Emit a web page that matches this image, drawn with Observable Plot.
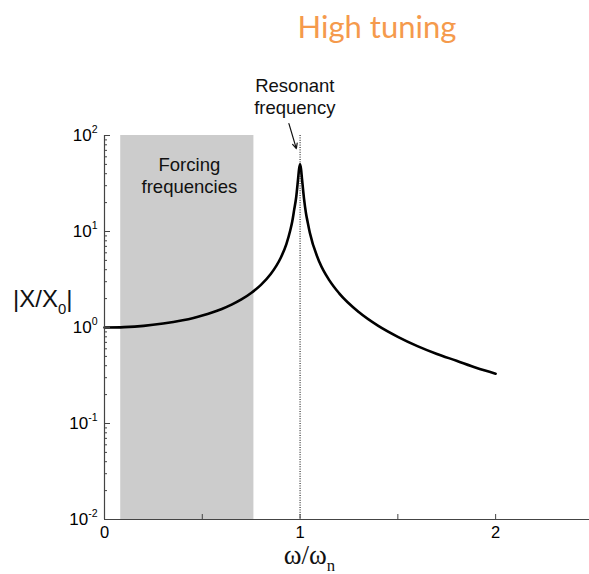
<!DOCTYPE html>
<html>
<head>
<meta charset="utf-8">
<script src="https://cdn.jsdelivr.net/npm/d3@7"></script>
<script src="https://cdn.jsdelivr.net/npm/@observablehq/plot@0.6"></script>
<style>
  html, body { margin: 0; padding: 0; background: #fff; }
  #wrap { width: 589px; height: 574px; position: relative; overflow: hidden; }
  #title { position: relative; height: 60px; width: 589px; }
  #title span { position: absolute; left: 377px; top: 7px; transform: translateX(-50%);
    font-family: Lato, "Open Sans", sans-serif; font-weight: 400; font-size: 31px; color: #f59a4c; white-space: nowrap; }
  svg { display: block; }
</style>
</head>
<body>
<div id="wrap">
  <div id="title"><span>High tuning</span></div>
  <div id="chart"></div>
</div>
<script>
// Frequency ratio ω/ωn and amplitude ratio |X/X0|
const ratio =     [0, 0.1, 0.2, 0.3, 0.4, 0.45, 0.5, 0.55, 0.6, 0.65, 0.7, 0.75, 0.8, 0.85, 0.9, 0.93, 0.95, 0.96, 0.97, 0.98, 0.99, 0.995, 1.0, 1.005, 1.01, 1.02, 1.03, 1.04, 1.05, 1.1, 1.15, 1.2, 1.3, 1.4, 1.5, 1.6, 1.7, 1.8, 1.9, 2.0];
const amplitude = [1.0, 1.01, 1.04, 1.10, 1.19, 1.25, 1.33, 1.43, 1.56, 1.73, 1.96, 2.29, 2.78, 3.60, 5.26, 7.40, 10.3, 12.7, 16.9, 22.6, 35.6, 44.9, 50, 44.6, 35.1, 22.1, 15.6, 12.2, 9.7, 4.76, 3.10, 2.27, 1.45, 1.04, 0.80, 0.64, 0.53, 0.45, 0.38, 0.33];

// Forcing frequency band (ω/ωn)
const forcingBand = [0.083, 0.764];

// Axis ticks and labels
const xTicks = [0, 0.5, 1, 1.5, 2];
const xTickLabels = [0, 1, 2];
const yTicks = [0.01, 0.1, 1, 10, 100];
const yTickLabels = ["10^{-2}", "10^{-1}", "10^{0}", "10^{1}", "10^{2}"];
const yMinorTicks = [];
for (let k = 0; k < 4; k++) for (let m = 2; m <= 9; m++) yMinorTicks.push(m * yTicks[k]);

// Annotations
const resonance = [1];
const annoText = [
  {x: 0.434, y: 38.7, label: "Forcing\nfrequencies"},
  {x: 0.973, y: 261, label: "Resonant\nfrequency"}
];
const arrowData = [{x1: 0.943, y1: 133, x2: 0.981, y2: 73}];

const curve = ratio.map((r, i) => ({r, a: amplitude[i]}));
const yLabelOf = d => yTickLabels[yTicks.findIndex(t => Math.abs(t - d) / t < 1e-6)] ?? "";

const axisColor = "#444";

const chart = Plot.plot({
  width: 589,
  height: 514,
  marginTop: 75,
  marginBottom: 55,
  marginLeft: 104,
  marginRight: 0,
  style: {fontFamily: "'Liberation Sans', Arial, sans-serif", fontSize: "16px", color: "#000", background: "#fff"},
  x: {domain: [0, 2.48], axis: null},
  y: {type: "log", domain: [0.01, 100], axis: null},
  marks: [
    Plot.rect([forcingBand], {x1: d => d[0], x2: d => d[1], y1: 0.01, y2: 100, fill: "#cccccc"}),
    Plot.ruleX(resonance, {stroke: "#000", strokeWidth: 1, strokeDasharray: "1,1.4"}),
    Plot.line(curve, {x: "r", y: "a", stroke: "#000", strokeWidth: 2.6, curve: "monotone-x"}),
    // axis lines
    Plot.ruleX([0], {stroke: axisColor, strokeWidth: 1.2}),
    Plot.ruleY([0.01], {stroke: axisColor, strokeWidth: 1.2}),
    // ticks (inward)
    Plot.axisX(xTicks, {tickSize: -5, tickFormat: () => "", stroke: axisColor}),
    Plot.axisX(xTickLabels, {tickSize: 0, tickPadding: 7, tickFormat: d => String(d), fontSize: 16.5, label: null}),
    Plot.axisY(yTicks, {tickSize: -6, tickFormat: () => "", stroke: axisColor}),
    Plot.axisY(yMinorTicks, {tickSize: -3, tickFormat: () => "", stroke: axisColor}),
    Plot.axisY(yTicks, {tickSize: 0, tickPadding: 7, tickFormat: yLabelOf, fontSize: 17, label: null}),
    // annotations
    Plot.text(annoText, {x: "x", y: "y", text: "label", fontSize: 18.5, lineHeight: 1.2, fill: "#111"}),
    Plot.arrow(arrowData, {x1: "x1", y1: "y1", x2: "x2", y2: "y2", stroke: "#111", strokeWidth: 1.2, headLength: 7, headAngle: 50}),
    // axis titles
    Plot.text(["|X/X_{0}|"], {frameAnchor: "left", dx: -32, dy: -28, textAnchor: "end", fontSize: 24, fill: "#111"}),
    Plot.text(["ω/ω_{n}"], {x: 1.048, frameAnchor: "bottom", dy: 44, textAnchor: "middle", fontSize: 27, fontFamily: "'Liberation Serif', 'Times New Roman', serif", fill: "#111"})
  ]
});

document.getElementById("chart").appendChild(chart);

// Render ^{..} and _{..} as real superscript / subscript tspans
d3.select(chart).selectAll("text").each(function () {
  const el = this;
  if (el.querySelector("tspan")) return;
  const t = el.textContent;
  const parts = t.split(/([\^_]\{[^}]*\})/).filter(p => p !== "");
  if (parts.length < 2) return;
  const fs = parseFloat(getComputedStyle(el).fontSize) || 16;
  el.textContent = "";
  let shift = 0;
  for (const p of parts) {
    const ts = d3.select(el).append("tspan");
    if (p[0] === "^" || p[0] === "_") {
      const up = p[0] === "^" ? -0.45 * fs : 0.28 * fs;
      ts.attr("font-size", (0.62 * fs) + "px").attr("dy", up - shift).text(p.slice(2, -1));
      shift = up;
    } else {
      ts.attr("dy", -shift).text(p);
      shift = 0;
    }
  }
});
</script>
</body>
</html>
